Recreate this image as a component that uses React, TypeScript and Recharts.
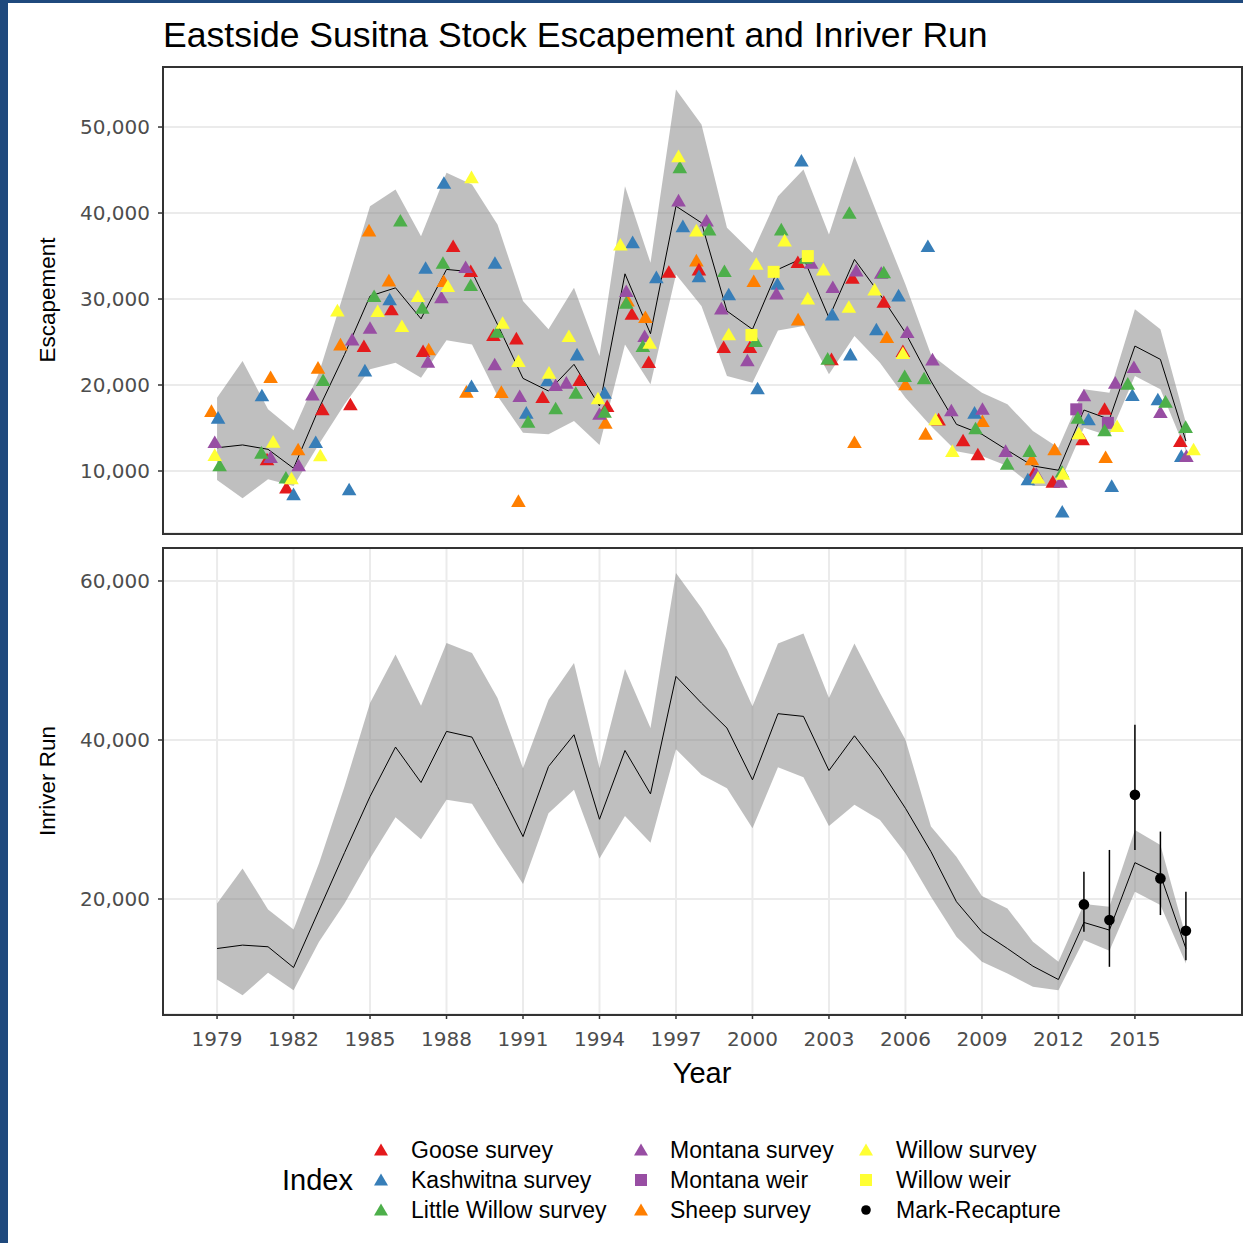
import React from "react";
import {
  ComposedChart,
  Area,
  Line,
  Scatter,
  XAxis,
  YAxis,
  CartesianGrid,
  ErrorBar,
} from "recharts";

const years = [
  1979, 1980, 1981, 1982, 1983, 1984, 1985, 1986, 1987, 1988, 1989, 1990, 1991,
  1992, 1993, 1994, 1995, 1996, 1997, 1998, 1999, 2000, 2001, 2002, 2003, 2004,
  2005, 2006, 2007, 2008, 2009, 2010, 2011, 2012, 2013, 2014, 2015, 2016, 2017,
];

// escapement estimate + ribbon
const escMid = [
  12700, 13030, 12520, 10320, 17300, 23560, 30340, 31300, 27700, 33440, 33160,
  27050, 20770, 19300, 22400, 17560, 32930, 25960, 40800, 38860, 28600, 26470,
  33440, 34790, 27820, 34600, 30540, 26080, 20460, 15430, 14270, 12410, 10590,
  10090, 17090, 16010, 24530, 22980, 13490,
];
const escLo = [
  8960, 6830, 9040, 8260, 13140, 17750, 21820, 22590, 20850, 25190, 24720,
  18720, 14460, 14270, 15810, 13030, 24720, 20080, 32850, 29180, 21040, 20270,
  26350, 26850, 21240, 25690, 22590, 18520, 15230, 12300, 11750, 10590, 8260,
  8260, 15040, 14070, 21040, 19500, 12330,
];
const escHi = [
  18520, 22790, 17170, 14730, 21430, 30920, 40800, 42740, 37310, 44670, 43320,
  38670, 29760, 26470, 31300, 23370, 43120, 34210, 54360, 50290, 38280, 35370,
  41960, 45060, 37510, 46610, 39060, 31700, 23560, 21240, 19100, 17750, 14650,
  12710, 19500, 19100, 28800, 26470, 15620,
];

// inriver run estimate + ribbon
const runMid = [
  13770, 14200, 13990, 11380, 18610, 25830, 32890, 39110, 34650, 41080, 40360,
  34150, 27850, 36670, 40660, 30030, 38680, 33220, 48000, 44640, 41500, 34990,
  43310, 42970, 36160, 40530, 36330, 31410, 25960, 19660, 15880, 13770, 11550,
  9870, 17050, 16090, 24570, 23020, 13770,
];
const runLo = [
  9870, 7900, 10710, 8530, 14620, 19440, 25110, 30280, 27510, 32470, 31970,
  26800, 21890, 30780, 33730, 25110, 30450, 27090, 38850, 35620, 33940, 28890,
  36580, 35320, 29190, 31840, 29950, 25740, 20290, 15250, 12100, 10620, 8950,
  8530, 14830, 13480, 20920, 19240, 11880,
];
const runHi = [
  19440, 23850, 18690, 16170, 24490, 34150, 44640, 50740, 44310, 52210, 50950,
  45270, 36450, 45070, 49690, 36450, 48930, 41500, 61020, 56610, 51370, 44230,
  52130, 53390, 45270, 52130, 45900, 40030, 29110, 25330, 20370, 18820, 14620,
  12100, 19370, 19030, 28690, 26800, 15250,
];

// index points: [year (jittered as drawn), value]
const goose: [number, number][] = [
  [1980.96, 11360], [1981.72, 8070], [1983.13, 17170], [1984.23, 17750],
  [1984.76, 24530], [1985.84, 28800], [1987.08, 23950], [1988.26, 36150],
  [1988.95, 33250], [1989.84, 25810], [1990.74, 25420], [1991.77, 18600],
  [1993.22, 20580], [1994.3, 17560], [1995.27, 28280], [1995.93, 22670],
  [1996.72, 33160], [1997.9, 33440], [1998.87, 24410], [1999.9, 24410],
  [2001.78, 34290], [2003.1, 23000], [2003.92, 32470], [2005.15, 29680],
  [2005.9, 23950], [2007.3, 16000], [2008.26, 13570], [2008.84, 11940],
  [2011.03, 9740], [2011.78, 8760], [2012.95, 13690], [2013.81, 17240],
  [2016.78, 13490],
];
const kashwitna: [number, number][] = [
  [1979.04, 16200], [1980.76, 18800], [1982.0, 7300], [1982.87, 13370],
  [1984.18, 7870], [1984.8, 21700], [1985.77, 29960], [1987.18, 33630],
  [1987.9, 43510], [1988.98, 19880], [1989.9, 34210], [1991.13, 16780],
  [1991.96, 20540], [1993.12, 23560], [1994.2, 19100], [1995.3, 36610],
  [1996.23, 32540], [1997.27, 38470], [1997.9, 32660], [1999.07, 30540],
  [2000.2, 19610], [2000.98, 31770], [2001.92, 46110], [2003.13, 28210],
  [2003.84, 23560], [2004.86, 26470], [2005.73, 30420], [2006.88, 36150],
  [2008.71, 16780], [2010.8, 9040], [2012.15, 5280], [2013.18, 16010],
  [2014.09, 8260], [2014.9, 18840], [2015.9, 18340], [2016.82, 11750],
];
const littleWillow: [number, number][] = [
  [1979.1, 10665], [1980.74, 12130], [1981.7, 9230], [1983.16, 20580],
  [1985.16, 30340], [1986.19, 39130], [1987.05, 28990], [1987.86, 34210],
  [1988.95, 31620], [1989.98, 26190], [1991.2, 15740], [1992.28, 17290],
  [1993.07, 19100], [1994.2, 16900], [1995.05, 29560], [1995.7, 24530],
  [1997.15, 45330], [1998.3, 38090], [1998.9, 33250], [2000.12, 25110],
  [2001.13, 38090], [2002.08, 34790], [2002.95, 23060], [2003.8, 40020],
  [2005.15, 33100], [2005.97, 21040], [2006.73, 20780], [2008.75, 14960],
  [2009.99, 10850], [2010.87, 12330], [2012.14, 9930], [2012.76, 16200],
  [2013.81, 14730], [2014.72, 20150], [2016.2, 18060], [2016.99, 15120],
];
const montanaSurvey: [number, number][] = [
  [1978.91, 13375], [1981.1, 11630], [1982.2, 10660], [1982.74, 18910],
  [1984.3, 25300], [1985.0, 26660], [1987.27, 22710], [1987.8, 30200],
  [1988.75, 33710], [1989.89, 22400], [1990.87, 18720], [1992.28, 20000],
  [1992.7, 20270], [1994.0, 16660], [1995.05, 30920], [1995.77, 25690],
  [1997.1, 41460], [1998.2, 39130], [1998.78, 28910], [1999.8, 22870],
  [2000.94, 30650], [2002.3, 34210], [2003.15, 31390], [2004.07, 33330],
  [2005.05, 33050], [2006.07, 26160], [2007.06, 22980], [2007.8, 17050],
  [2009.02, 17240], [2009.93, 12330], [2011.13, 9700], [2012.08, 8760],
  [2013.0, 18800], [2014.23, 20270], [2014.96, 22090], [2016.0, 16860],
  [2017.02, 11750],
];
const montanaWeir: [number, number][] = [
  [2012.7, 17170], [2013.94, 15600],
];
const sheep: [number, number][] = [
  [1978.78, 16980], [1981.1, 20930], [1982.18, 12520], [1982.96, 22010],
  [1983.84, 24720], [1984.96, 37970], [1985.74, 32160], [1987.3, 24150],
  [1987.89, 32080], [1988.78, 19220], [1990.15, 19190], [1990.82, 6520],
  [1994.23, 15620], [1995.1, 29840], [1995.8, 27900], [1997.8, 34490],
  [2000.05, 32080], [2001.79, 27630], [2004.0, 13370], [2005.27, 25580],
  [2006.0, 20080], [2006.79, 14340], [2009.02, 15810], [2010.96, 11360],
  [2011.85, 12520], [2013.85, 11630],
];
const willowSurvey: [number, number][] = [
  [1978.91, 11865], [1981.2, 13410], [1981.92, 9150], [1983.05, 11830],
  [1983.72, 28670], [1985.3, 28600], [1986.25, 26850], [1986.88, 30340],
  [1988.05, 31500], [1988.98, 44170], [1990.2, 27240], [1990.82, 22790],
  [1992.02, 21430], [1992.8, 25690], [1993.94, 18450], [1994.82, 36340],
  [1995.97, 24910], [1997.1, 46610], [1997.8, 37970], [1999.07, 25890],
  [2000.15, 34090], [2001.26, 36810], [2002.17, 30070], [2002.78, 33440],
  [2003.78, 29100], [2004.79, 31120], [2005.9, 23720], [2007.18, 16010],
  [2007.84, 12330], [2011.2, 9230], [2012.18, 9690], [2012.8, 14380],
  [2014.3, 15230], [2017.3, 12520],
];
const willowWeir: [number, number][] = [
  [1999.96, 25810], [2000.83, 33160], [2002.17, 34990],
];

// mark-recapture inriver estimates
const mrYears = [2013, 2014, 2015, 2016, 2017];
const mrEst = [19320, 17350, 33100, 22590, 16000];
const mrLo = [15880, 11470, 26170, 17980, 12310];
const mrHi = [23440, 26170, 41920, 28480, 20920];

const yearTicks = [1979, 1982, 1985, 1988, 1991, 1994, 1997, 2000, 2003, 2006, 2009, 2012, 2015];
const escTicks = [10000, 20000, 30000, 40000, 50000];
const runTicks = [20000, 40000, 60000];

const RED = "#E41A1C";
const BLUE = "#377EB8";
const GREEN = "#4DAF4A";
const PURPLE = "#984EA3";
const ORANGE = "#FF7F00";
const YELLOW = "#FFFF33";

const escRows = years.map((year, i) => ({ year, mid: escMid[i], lo: escLo[i], hi: escHi[i] }));
const runRows = years.map((year, i) => ({ year, mid: runMid[i], lo: runLo[i], hi: runHi[i] }));
const mrRows = mrYears.map((year, i) => ({
  year,
  value: mrEst[i],
  err: [mrEst[i] - mrLo[i], mrHi[i] - mrEst[i]],
}));
const toRows = (pts: [number, number][]) => pts.map(([year, value]) => ({ year, value }));

const xDomain = [1976.88, 2019.2];
const fmt = (v: number) => v.toLocaleString("en-US");
const tickFont = { fill: "#4d4d4d", fontSize: 20, fontFamily: "DejaVu Sans, Verdana, sans-serif" };
const textFont = '"Liberation Sans", Arial, sans-serif';

const triangle = (color: string) => (p: any) =>
  p.cx == null ? <g /> : (
    <polygon
      points={`${p.cx},${p.cy - 6.6} ${p.cx + 7.3},${p.cy + 6} ${p.cx - 7.3},${p.cy + 6}`}
      fill={color}
    />
  );
const square = (color: string) => (p: any) =>
  p.cx == null ? <g /> : <rect x={p.cx - 6} y={p.cy - 6} width={12} height={12} fill={color} />;
const dot = (p: any) => (p.cx == null ? <g /> : <circle cx={p.cx} cy={p.cy} r={5.3} fill="#000" />);

// draw order on the plot
const pointLayers = [
  { pts: montanaWeir, shape: square(PURPLE) },
  { pts: sheep, shape: triangle(ORANGE) },
  { pts: goose, shape: triangle(RED) },
  { pts: kashwitna, shape: triangle(BLUE) },
  { pts: montanaSurvey, shape: triangle(PURPLE) },
  { pts: littleWillow, shape: triangle(GREEN) },
  { pts: willowSurvey, shape: triangle(YELLOW) },
  { pts: willowWeir, shape: square(YELLOW) },
];

const legendCols = [
  [
    { label: "Goose survey", color: RED, kind: "tri" },
    { label: "Kashwitna survey", color: BLUE, kind: "tri" },
    { label: "Little Willow survey", color: GREEN, kind: "tri" },
  ],
  [
    { label: "Montana survey", color: PURPLE, kind: "tri" },
    { label: "Montana weir", color: PURPLE, kind: "sq" },
    { label: "Sheep survey", color: ORANGE, kind: "tri" },
  ],
  [
    { label: "Willow survey", color: YELLOW, kind: "tri" },
    { label: "Willow weir", color: YELLOW, kind: "sq" },
    { label: "Mark-Recapture", color: "#000", kind: "dot" },
  ],
];
const colSymbolX = [381, 641, 866];
const colTextX = [411, 670, 896];
const rowY = [1150, 1180, 1210];

function LegendSymbol({ kind, color }: { kind: string; color: string }) {
  return (
    <svg width={16} height={16} style={{ position: "absolute", left: -8, top: -8 }}>
      {kind === "tri" && <polygon points="8,1.5 15,13.5 1,13.5" fill={color} />}
      {kind === "sq" && <rect x={2} y={2} width={12} height={12} fill={color} />}
      {kind === "dot" && <circle cx={8} cy={8} r={4.8} fill={color} />}
    </svg>
  );
}

export default function App() {
  return (
    <div
      style={{
        position: "absolute",
        left: 0,
        top: 0,
        width: 1243,
        height: 1243,
        background: "#fff",
        overflow: "hidden",
        fontFamily: textFont,
      }}
    >
      <div style={{ position: "absolute", left: 0, top: 0, width: 1243, height: 3, background: "#1f497d" }} />
      <div style={{ position: "absolute", left: 0, top: 0, width: 8, height: 1243, background: "#1f497d" }} />

      <div style={{ position: "absolute", left: 163, top: 15, fontSize: 35.6, lineHeight: "40px", color: "#000", whiteSpace: "nowrap" }}>
        Eastside Susitna Stock Escapement and Inriver Run
      </div>

      {/* escapement panel */}
      <div style={{ position: "absolute", left: 0, top: 0 }}>
        <ComposedChart width={1243} height={540} data={escRows} margin={{ top: 67, right: 1, bottom: 7, left: 0 }}>
          <CartesianGrid stroke="#ebebeb" strokeWidth={2} />
          <XAxis
            dataKey="year"
            type="number"
            domain={xDomain}
            ticks={yearTicks}
            allowDataOverflow
            height={0}
            tick={false}
            tickLine={false}
            axisLine={false}
          />
          <YAxis
            type="number"
            domain={[2790, 56980]}
            ticks={escTicks}
            allowDataOverflow
            width={163}
            tickFormatter={fmt}
            tick={tickFont}
            tickLine={{ stroke: "#333", strokeWidth: 1.5 }}
            tickSize={5}
            tickMargin={8}
            axisLine={false}
          />
          <Area
            type="linear"
            dataKey={(d: any) => [d.lo, d.hi]}
            fill="#808080"
            fillOpacity={0.5}
            stroke="none"
            isAnimationActive={false}
          />
          <Line type="linear" dataKey="mid" stroke="#000" strokeWidth={1} dot={false} isAnimationActive={false} />
          {pointLayers.map((l, i) => (
            <Scatter key={i} data={toRows(l.pts)} dataKey="value" shape={l.shape} isAnimationActive={false} />
          ))}
        </ComposedChart>
      </div>

      {/* inriver run panel */}
      <div style={{ position: "absolute", left: 0, top: 540 }}>
        <ComposedChart width={1243} height={554} data={runRows} margin={{ top: 8, right: 1, bottom: 0, left: 0 }}>
          <CartesianGrid stroke="#ebebeb" strokeWidth={2} />
          <XAxis
            dataKey="year"
            type="number"
            domain={xDomain}
            ticks={yearTicks}
            allowDataOverflow
            height={80}
            tick={tickFont}
            tickLine={{ stroke: "#333", strokeWidth: 1.5 }}
            tickSize={5}
            tickMargin={13}
            axisLine={false}
          />
          <YAxis
            type="number"
            domain={[5535, 64150]}
            ticks={runTicks}
            allowDataOverflow
            width={163}
            tickFormatter={fmt}
            tick={tickFont}
            tickLine={{ stroke: "#333", strokeWidth: 1.5 }}
            tickSize={5}
            tickMargin={8}
            axisLine={false}
          />
          <Area
            type="linear"
            dataKey={(d: any) => [d.lo, d.hi]}
            fill="#808080"
            fillOpacity={0.5}
            stroke="none"
            isAnimationActive={false}
          />
          <Line type="linear" dataKey="mid" stroke="#000" strokeWidth={1} dot={false} isAnimationActive={false} />
          <Scatter data={mrRows} dataKey="value" shape={dot} isAnimationActive={false}>
            <ErrorBar dataKey="err" direction="y" width={0} stroke="#000" strokeWidth={1.5} />
          </Scatter>
        </ComposedChart>
      </div>

      {/* panel borders */}
      <div style={{ position: "absolute", left: 162, top: 66, width: 1081, height: 469, border: "2px solid #333", boxSizing: "border-box", pointerEvents: "none" }} />
      <div style={{ position: "absolute", left: 162, top: 547, width: 1081, height: 469, border: "2px solid #333", boxSizing: "border-box", pointerEvents: "none" }} />

      {/* axis titles */}
      <div style={{ position: "absolute", left: 48, top: 300, transform: "translate(-50%, -50%) rotate(-90deg)", fontSize: 22.5, whiteSpace: "nowrap", color: "#000" }}>
        Escapement
      </div>
      <div style={{ position: "absolute", left: 48, top: 781, transform: "translate(-50%, -50%) rotate(-90deg)", fontSize: 22.5, whiteSpace: "nowrap", color: "#000" }}>
        Inriver Run
      </div>
      <div style={{ position: "absolute", left: 702, top: 1073, transform: "translate(-50%, -50%)", fontSize: 29, whiteSpace: "nowrap", color: "#000" }}>
        Year
      </div>

      {/* legend */}
      <div style={{ position: "absolute", left: 282, top: 1180, transform: "translateY(-50%)", fontSize: 29, color: "#000" }}>
        Index
      </div>
      {legendCols.map((col, ci) =>
        col.map((item, ri) => (
          <React.Fragment key={`${ci}-${ri}`}>
            <div style={{ position: "absolute", left: colSymbolX[ci], top: rowY[ri] }}>
              <LegendSymbol kind={item.kind} color={item.color} />
            </div>
            <div
              style={{
                position: "absolute",
                left: colTextX[ci],
                top: rowY[ri],
                transform: "translateY(-50%)",
                fontSize: 23,
                whiteSpace: "nowrap",
                color: "#000",
              }}
            >
              {item.label}
            </div>
          </React.Fragment>
        ))
      )}
    </div>
  );
}
